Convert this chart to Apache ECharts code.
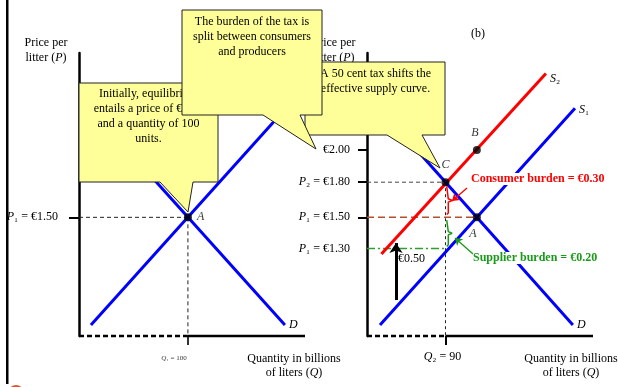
<!DOCTYPE html>
<html><head><meta charset="utf-8">
<script src="https://cdn.jsdelivr.net/npm/echarts@6/dist/echarts.min.js"></script>
<style>html,body{margin:0;padding:0;background:#fff}#c{width:618px;height:387px}</style>
</head><body><div id="c"></div>
<script>
// ---------- data (quantity Q in billions of liters, price P in euro per liter) ----------
const priceRange = [0.65, 2.72];
const qRangeLeft = [65.3, 137.3];
const qRangeRight = [65, 137];

// panel (a)
const leftSupply = [[69.1, 0.73], [131, 2.31]];
const leftDemand = [[69, 2.31], [130.9, 0.73]];
const leftEquilibrium = [100, 1.518];
const leftPriceTicks = [1.518];
const leftPriceLabels = ['P₁ = €1.50'];
const leftQTicks = [100];
const leftQLabels = ['Q₁ = 100'];

// panel (b)
const rightS1 = [[69.14, 0.73], [131.26, 2.316]];
const rightS2 = [[69.6, 1.25], [122, 2.57]];
const rightDemand = [[70, 2.29], [130.6, 0.73]];
const pointA = [100, 1.518];
const pointB = [100, 2.01];
const pointC = [90, 1.775];
const priceLevels = [1.29, 1.518, 1.775, 2.01];
const priceLevelLabels = ['P₁ = €1.30', 'P₁ = €1.50', 'P₂ = €1.80', '€2.00'];
const rightQTicks = [90];
const rightQLabels = ['Q₂ = 90'];
const taxArrow = [[74.24, 0.913], [74.24, 1.33]];
const consumerArrow = [[96.86, 1.733], [92.08, 1.6375]];
const supplierArrow = [[98.77, 1.25], [93.03, 1.367]];

// ---------- helpers ----------
const SERIF = '"Liberation Serif", "DejaVu Serif", serif';
const rich = {
  i: {fontFamily: SERIF, fontStyle: 'italic', fontSize: 12, color: '#000'},
  n: {fontFamily: SERIF, fontSize: 12, color: '#000'},
  is: {fontFamily: SERIF, fontStyle: 'italic', fontSize: 7, color: '#333'},
  ns: {fontFamily: SERIF, fontSize: 7, color: '#333'}
};
function richText(s, small) {
  const a = small ? 'is' : 'i', b = small ? 'ns' : 'n';
  if (s[0] === 'P' || s[0] === 'Q') return '{' + a + '|' + s[0] + '}{' + b + '|' + s.slice(1) + '}';
  return '{' + b + '|' + s + '}';
}
function labelFor(values, labels, v, small) {
  let k = 0, best = Infinity;
  values.forEach((x, i) => { const d = Math.abs(x - v); if (d < best) { best = d; k = i; } });
  return richText(labels[k], small);
}
function brace(q, pLow, pHigh, tipQ) {
  const mid = (pLow + pHigh) / 2, e = 0.012;
  return [[q - 0.5, pHigh], [q, pHigh - e], [q, mid + e], [tipQ, mid], [q, mid - e], [q, pLow + e], [q - 0.5, pLow]];
}
function seg(name, xi, data, color, width, type, z) {
  return {name, type: 'line', xAxisIndex: xi, yAxisIndex: xi, data, symbol: 'none', silent: true,
    clip: false, z: z || 2, lineStyle: {color, width, type: type || 'solid', opacity: 1}, animation: false};
}

const chart = echarts.init(document.getElementById('c'), null, {renderer: 'canvas'});

const baseY = {type: 'value', min: priceRange[0], max: priceRange[1], splitLine: {show: false},
  axisLine: {show: true, lineStyle: {color: '#000', width: 2.5}}};
const baseX = {type: 'value', splitLine: {show: false}, axisLine: {show: false}};

const option = {
  animation: false,
  backgroundColor: '#fff',
  grid: [
    {left: 79, top: 53, width: 226, height: 283},
    {left: 367, top: 53, width: 226, height: 283}
  ],
  xAxis: [
    Object.assign({}, baseX, {gridIndex: 0, min: qRangeLeft[0], max: qRangeLeft[1],
      axisTick: {show: true, customValues: leftQTicks, length: 9, lineStyle: {color: '#333', width: 2}},
      axisLabel: {customValues: leftQTicks, margin: 19, padding: [0, 28, 0, 0], rich,
        formatter: v => labelFor(leftQTicks, leftQLabels, v, true)}}),
    Object.assign({}, baseX, {gridIndex: 1, min: qRangeRight[0], max: qRangeRight[1],
      axisTick: {show: true, customValues: rightQTicks, length: 9, lineStyle: {color: '#000', width: 2}},
      axisLabel: {customValues: rightQTicks, margin: 15, padding: [0, 6, 0, 0], rich,
        formatter: v => labelFor(rightQTicks, rightQLabels, v, false)}})
  ],
  yAxis: [
    Object.assign({}, baseY, {gridIndex: 0,
      axisTick: {show: true, customValues: leftPriceTicks, length: 10, lineStyle: {color: '#000', width: 2}},
      axisLabel: {customValues: leftPriceTicks, margin: 21, rich,
        formatter: v => labelFor(leftPriceTicks, leftPriceLabels, v)}}),
    Object.assign({}, baseY, {gridIndex: 1,
      axisTick: {show: true, customValues: priceLevels.slice(1), length: 9, lineStyle: {color: '#000', width: 2}},
      axisLabel: {customValues: priceLevels, margin: 17, rich,
        formatter: v => labelFor(priceLevels, priceLevelLabels, v)}})
  ],
  series: [
    // ----- panel (a)
    seg('axisA-dash', 0, [[qRangeLeft[0], priceRange[0]], [leftQTicks[0], priceRange[0]]], '#000', 2.5, [5, 3]),
    seg('axisA', 0, [[leftQTicks[0], priceRange[0]], [qRangeLeft[1], priceRange[0]]], '#000', 2.5),
    seg('guideA-h', 0, [[qRangeLeft[0], leftEquilibrium[1]], leftEquilibrium], '#222', 1, [4, 3]),
    seg('guideA-v', 0, [leftEquilibrium, [leftEquilibrium[0], priceRange[0]]], '#222', 1, [4, 3]),
    Object.assign(seg('S1a', 0, leftSupply, '#0000ff', 3), {z: 3}),
    Object.assign(seg('Da', 0, leftDemand, '#0000ff', 3), {z: 3,
      endLabel: {show: true, formatter: 'D', fontFamily: SERIF, fontStyle: 'italic', fontSize: 12, color: '#000', distance: 4}}),
    {type: 'scatter', xAxisIndex: 0, yAxisIndex: 0, data: [leftEquilibrium], symbolSize: 8, z: 5, silent: true,
      itemStyle: {color: '#000'},
      label: {show: true, formatter: 'A', position: 'right', distance: 5, fontFamily: SERIF, fontStyle: 'italic', fontSize: 12, color: '#000'}},

    // ----- panel (b)
    seg('axisB-dash', 1, [[qRangeRight[0], priceRange[0]], [rightQTicks[0], priceRange[0]]], '#000', 2.5, [5, 3]),
    seg('axisB', 1, [[rightQTicks[0], priceRange[0]], [qRangeRight[1], priceRange[0]]], '#000', 2.5),
    seg('guideP2', 1, [[qRangeRight[0], priceLevels[2]], pointC], '#444', 1, [4, 3]),
    seg('guideQ2', 1, [pointC, [pointC[0], priceRange[0]]], '#222', 1, [3, 3]),
    seg('guideP1', 1, [[qRangeRight[0], priceLevels[1]], pointA], '#b4502d', 1.5, [7, 4]),
    seg('guideP1s', 1, [[qRangeRight[0], priceLevels[0]], [pointC[0], priceLevels[0]]], '#2ca02c', 1.5, [8, 3, 2, 3]),
    Object.assign(seg('S1', 1, rightS1, '#0000ff', 3), {z: 3,
      endLabel: {show: true, formatter: '{i|S}{n|₁}', rich, distance: 4, offset: [0, 2]}}),
    Object.assign(seg('S2', 1, rightS2, '#ff0000', 3), {z: 3,
      endLabel: {show: true, formatter: '{i|S}{n|₂}', rich, distance: 4, offset: [0, 5]}}),
    Object.assign(seg('D', 1, rightDemand, '#0000ff', 3), {z: 3,
      endLabel: {show: true, formatter: 'D', fontFamily: SERIF, fontStyle: 'italic', fontSize: 12, color: '#000', distance: 4}}),
    seg('consumerBrace', 1, brace(90.9, priceLevels[1] + 0.02, priceLevels[2] - 0.03, 92.1), '#ff0000', 1.5, 'solid', 4),
    seg('supplierBrace', 1, brace(90.9, priceLevels[0] + 0.015, priceLevels[1] - 0.02, 92.1), '#1a9a1a', 1.5, 'solid', 4),
    {type: 'lines', coordinateSystem: 'cartesian2d', xAxisIndex: 1, yAxisIndex: 1, z: 4, silent: true,
      symbol: ['none', 'arrow'], symbolSize: 7,
      lineStyle: {opacity: 1},
      data: [
        {coords: consumerArrow, lineStyle: {color: '#ff0000', width: 1.3, opacity: 1}},
        {coords: supplierArrow, lineStyle: {color: '#1a9a1a', width: 1.3, opacity: 1}}
      ]},
    {type: 'lines', coordinateSystem: 'cartesian2d', xAxisIndex: 1, yAxisIndex: 1, z: 4, silent: true,
      symbol: ['none', 'arrow'], symbolSize: 10,
      lineStyle: {opacity: 1},
      data: [{coords: taxArrow, lineStyle: {color: '#000', width: 3, opacity: 1}}]},
    {type: 'scatter', xAxisIndex: 1, yAxisIndex: 1, symbolSize: 8, z: 5, silent: true,
      itemStyle: {color: '#000'},
      data: [
        {value: pointA, label: {formatter: 'A', position: 'bottom', offset: [-4, 2]}},
        {value: pointB, label: {formatter: 'B', position: 'top', offset: [-2, -2]}},
        {value: pointC, label: {formatter: 'C', position: 'top', offset: [0, -2]}}
      ],
      label: {show: true, fontFamily: SERIF, fontStyle: 'italic', fontSize: 12, color: '#000'}}
  ],
  graphic: [
    {type: 'rect', shape: {x: 6, y: 0, width: 2.5, height: 384}, style: {fill: '#000'}, z: 20},
    {type: 'circle', shape: {cx: 16, cy: 393, r: 8}, style: {fill: '#e8561f'}, z: 20},
    {type: 'text', x: 46, y: 35, z: 20, style: {text: 'Price per\nlitter ({i|P})', textAlign: 'center', fontFamily: SERIF, fontSize: 12, lineHeight: 15, fill: '#000', rich: {i: {fontFamily: SERIF, fontStyle: 'italic', fontSize: 12, lineHeight: 15}}}},
    {type: 'text', x: 334, y: 35, z: 20, style: {text: 'Price per\nlitter ({i|P})', textAlign: 'center', fontFamily: SERIF, fontSize: 12, lineHeight: 15, fill: '#000', rich: {i: {fontFamily: SERIF, fontStyle: 'italic', fontSize: 12, lineHeight: 15}}}},
    {type: 'text', x: 294, y: 352, z: 20, style: {text: 'Quantity in billions\nof liters ({i|Q})', textAlign: 'center', fontFamily: SERIF, fontSize: 12, lineHeight: 14, fill: '#000', rich: {i: {fontFamily: SERIF, fontStyle: 'italic', fontSize: 12, lineHeight: 14}}}},
    {type: 'text', x: 571, y: 352, z: 20, style: {text: 'Quantity in billions\nof liters ({i|Q})', textAlign: 'center', fontFamily: SERIF, fontSize: 12, lineHeight: 14, fill: '#000', rich: {i: {fontFamily: SERIF, fontStyle: 'italic', fontSize: 12, lineHeight: 14}}}},
    {type: 'text', x: 478, y: 28, z: 20, style: {text: '(b)', textAlign: 'center', fontFamily: SERIF, fontSize: 12, fill: '#000'}},
    {type: 'text', x: 471, y: 173, z: 6, style: {text: 'Consumer burden = €0.30', fontFamily: SERIF, fontSize: 12, fontWeight: 'bold', fill: '#ff0000', backgroundColor: '#fff'}},
    {type: 'text', x: 473, y: 252, z: 6, style: {text: 'Supplier burden = €0.20', fontFamily: SERIF, fontSize: 12, fontWeight: 'bold', fill: '#1a9a1a', backgroundColor: '#fff'}},
    {type: 'text', x: 398, y: 253, z: 6, style: {text: '€0.50', fontFamily: SERIF, fontSize: 12, fill: '#000'}},
    // callout 1
    {type: 'polygon', z: 30, shape: {points: [[79, 83], [218, 83], [218, 182], [193, 182], [188, 212], [160, 182], [79, 182]]}, style: {fill: '#ffff99', stroke: '#222', lineWidth: 1}},
    {type: 'text', x: 148.5, y: 86, z: 31, style: {text: 'Initially, equilibrium\nentails a price of €1.50\nand a quantity of 100\nunits.', textAlign: 'center', fontFamily: SERIF, fontSize: 12, lineHeight: 15, fill: '#000'}},
    // callout 3
    {type: 'polygon', z: 32, shape: {points: [[305, 62], [445, 62], [445, 135], [422, 135], [440, 168], [387, 135], [305, 135]]}, style: {fill: '#ffff99', stroke: '#222', lineWidth: 1}},
    {type: 'text', x: 375.5, y: 66, z: 33, style: {text: 'A 50 cent tax shifts the\neffective supply curve.', textAlign: 'center', fontFamily: SERIF, fontSize: 12, lineHeight: 15, fill: '#000'}},
    // callout 2
    {type: 'polygon', z: 34, shape: {points: [[182, 10], [322, 10], [322, 115], [300, 115], [316, 149], [263, 115], [182, 115]]}, style: {fill: '#ffff99', stroke: '#222', lineWidth: 1}},
    {type: 'text', x: 252, y: 14, z: 35, style: {text: 'The burden of the tax is\nsplit between consumers\nand producers', textAlign: 'center', fontFamily: SERIF, fontSize: 12, lineHeight: 15, fill: '#000'}}
  ]
};
chart.setOption(option);
</script></body></html>
